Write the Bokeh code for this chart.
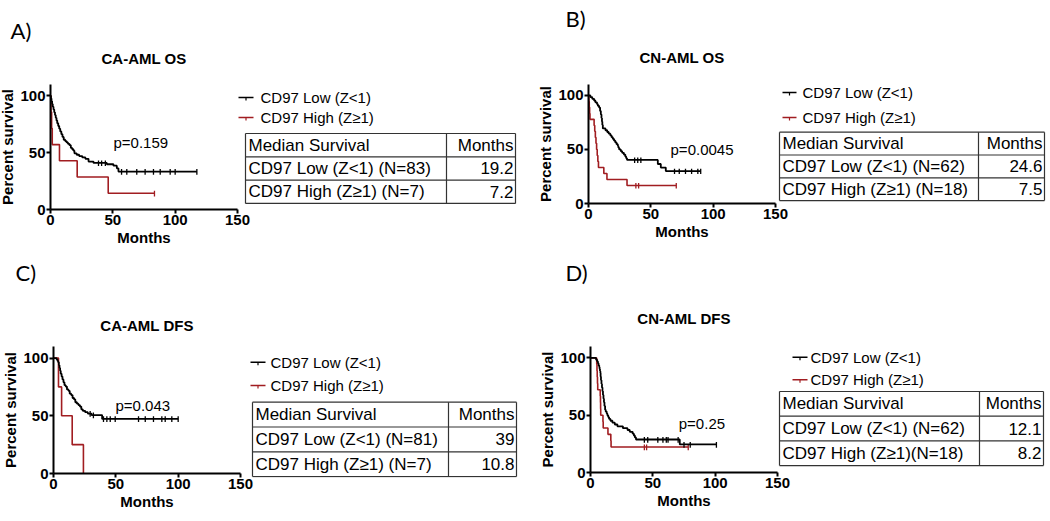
from bokeh.plotting import figure
from bokeh.models import Range1d, Label, FixedTicker, Title
from bokeh.layouts import row, column
from bokeh.embed import file_html
from bokeh.resources import INLINE
from bokeh.core.properties import value

FONT = "Liberation Sans"
LETTER_FONT = "Lato"
BLACK = "#000000"
RED = "#A11D21"

# ---------------- data ----------------
panel_letters = ["A)", "B)", "C)", "D)"]
panel_titles = ["CA-AML OS", "CN-AML OS", "CA-AML DFS", "CN-AML DFS"]
series_names = ["CD97 Low (Z<1)", "CD97 High (Z≥1)"]
table_header = ["Median Survival", "Months"]
p_texts = ["p=0.159", "p=0.0045", "p=0.043", "p=0.25"]
x_ticks = [0, 50, 100, 150]
y_ticks = [0, 50, 100]

# A) CA-AML OS
a_low_t = [0.3, 0.8, 1.3, 1.8, 2.4, 3.0, 3.6, 4.2, 4.8, 5.4, 6.2, 7.0, 7.8, 8.7, 9.6, 10.6, 11.8, 12.9,
           14.0, 15.2, 16.3, 17.4, 18.4, 19.2, 21.0, 23.0, 25.5, 28.0, 30.5, 34.5, 45.2, 50.5, 53.2, 54.5]
a_low_s = [97.6, 95.2, 92.8, 90.4, 88.0, 85.5, 83.1, 80.7, 78.3, 75.9, 73.5, 71.1, 68.7, 66.3, 63.9, 61.4, 60.2, 59.0,
           57.8, 56.6, 54.2, 53.0, 51.8, 49.4, 48.2, 47.0, 45.8, 44.6, 42.2, 41.0, 39.8, 38.6, 36.2, 33.4]
a_low_end = 117.4
a_low_cens = [38.5, 41.0, 44.0, 57.0, 61.2, 69.2, 75.9, 82.6, 88.0, 96.0, 100.0, 117.4]
a_high_t = [0.4, 0.9, 1.4, 7.2, 21.4, 46.3]
a_high_s = [85.7, 71.4, 57.1, 42.9, 28.6, 14.3]
a_high_end = 83.4
a_high_cens = [83.4]
a_rows = ["CD97 Low (Z<1) (N=83)", "CD97 High (Z≥1) (N=7)"]
a_medians = ["19.2", "7.2"]

# B) CN-AML OS
b_low_t = [1.5, 3.0, 4.5, 5.5, 6.8, 7.5, 8.5, 9.3, 9.9, 10.4, 10.8, 11.1, 11.5, 13.6, 15.0, 16.2, 17.5, 18.5,
           19.5, 20.5, 21.5, 22.5, 23.5, 24.0, 24.6, 25.9, 27.0, 28.4, 29.5, 30.2, 30.9, 55.6, 58.0, 62.0]
b_low_s = [98.4, 96.8, 95.2, 93.5, 91.9, 90.3, 88.7, 85.5, 82.3, 79.0, 75.8, 72.6, 69.4, 67.7, 66.1, 64.5, 62.9, 61.3,
           59.7, 58.1, 56.5, 54.8, 53.2, 51.6, 50.0, 48.4, 46.8, 45.2, 43.5, 41.9, 40.3, 36.5, 33.2, 30.0]
b_low_end = 90.0
b_low_cens = [37.0, 39.5, 42.0, 69.0, 72.8, 77.8, 82.7, 87.7, 90.0]
b_high_t = [0.3, 0.6, 0.9, 1.2, 4.5, 5.0, 5.5, 6.0, 6.5, 7.0, 7.5, 8.0, 12.3, 14.8, 30.9]
b_high_s = [94.4, 88.9, 83.3, 77.8, 72.2, 66.7, 61.1, 55.6, 50.0, 44.4, 38.9, 33.3, 27.8, 22.2, 16.7]
b_high_end = 70.4
b_high_cens = [38.0, 40.2, 70.4]
b_rows = ["CD97 Low (Z<1) (N=62)", "CD97 High (Z≥1) (N=18)"]
b_medians = ["24.6", "7.5"]

# C) CA-AML DFS
c_low_t = [2.5, 3.2, 3.8, 4.3, 4.8, 5.3, 5.8, 6.5, 7.2, 8.0, 8.8, 9.8, 10.8, 12.0, 13.0, 14.2, 15.3, 16.5,
           17.5, 18.8, 20.0, 21.2, 22.3, 23.5, 25.4, 27.5, 30.5, 39.0]
c_low_s = [98.8, 97.5, 96.3, 93.8, 91.4, 88.9, 86.4, 84.0, 81.5, 79.0, 76.5, 75.3, 72.8, 71.6, 69.1, 67.9, 65.4, 64.2,
           61.7, 60.5, 59.3, 58.0, 55.6, 54.3, 53.1, 51.9, 50.6, 47.3]
c_low_end = 100.0
c_low_cens = [29.4, 32.0, 40.1, 42.8, 45.5, 49.5, 68.2, 73.6, 80.2, 86.9, 89.6, 94.9, 100.0]
c_high_t = [4.0, 6.5, 15.0, 24.0]
c_high_s = [75.0, 50.0, 25.0, 0.0]
c_high_end = 24.0
c_high_cens = []
c_rows = ["CD97 Low (Z<1) (N=81)", "CD97 High (Z≥1) (N=7)"]
c_medians = ["39", "10.8"]

# D) CN-AML DFS
d_low_t = [4.5, 5.4, 6.0, 6.5, 7.0, 7.3, 7.6, 7.9, 8.1, 8.4, 8.8, 9.2, 9.6, 10.0, 10.4, 10.8, 11.2, 11.7,
           12.2, 13.0, 13.5, 14.2, 14.9, 16.0, 17.6, 19.5, 21.6, 26.0, 29.7, 31.5, 33.8, 34.8, 35.6, 36.5, 71.6]
d_low_s = [98.4, 96.8, 95.2, 93.5, 91.9, 90.3, 88.7, 87.1, 83.9, 80.6, 77.4, 74.2, 71.0, 67.7, 64.5, 61.3, 58.1, 54.8,
           53.2, 51.6, 50.0, 48.4, 46.8, 45.2, 43.5, 41.9, 40.3, 38.7, 37.1, 35.5, 33.9, 32.3, 30.6, 28.8, 24.5]
d_low_end = 101.0
d_low_cens = [43.2, 45.9, 54.0, 58.1, 60.8, 62.2, 70.3, 75.0, 80.0, 101.0]
d_high_t = [5.0, 5.2, 5.4, 5.6, 5.8, 7.8, 8.0, 8.1, 8.2, 10.0, 10.2, 14.0, 16.3, 16.5]
d_high_s = [94.4, 88.9, 83.3, 77.8, 72.2, 66.7, 61.1, 55.6, 50.0, 44.4, 38.9, 33.3, 27.8, 22.2]
d_high_end = 78.4
d_high_cens = [43.2, 45.0, 78.4]
d_rows = ["CD97 Low (Z<1) (N=62)", "CD97 High (Z≥1)(N=18)"]
d_medians = ["12.1", "8.2"]

panels = [
    dict(low=(a_low_t, a_low_s, a_low_end, a_low_cens), high=(a_high_t, a_high_s, a_high_end, a_high_cens),
         rows=a_rows, med=a_medians),
    dict(low=(b_low_t, b_low_s, b_low_end, b_low_cens), high=(b_high_t, b_high_s, b_high_end, b_high_cens),
         rows=b_rows, med=b_medians),
    dict(low=(c_low_t, c_low_s, c_low_end, c_low_cens), high=(c_high_t, c_high_s, c_high_end, c_high_cens),
         rows=c_rows, med=c_medians),
    dict(low=(d_low_t, d_low_s, d_low_end, d_low_cens), high=(d_high_t, d_high_s, d_high_end, d_high_cens),
         rows=d_rows, med=d_medians),
]

# ---------------- layout (pixels) ----------------
# KM figure: ml = css margin-left, bt/fh/bb = top border, frame height, bottom border,
# g1 = gap frame->title, g2 = gap title->panel letter, lo = letter offset from frame left
# side figure: pixel coordinates relative to its own top-left corner
layouts = [
    dict(ml=-4, bt=84, fh=125, bb=41, g1=18, g2=4, lo=-40, px=50.5, py=58.8,
         sml=-17, sw=299, sfh=125, leg_y=[97, 117], leg_x=(3, 18), leg_tx=25,
         tbl_x=(10, 211, 280), tbl_top=133, tbl_rh=23.3),
    dict(ml=0, bt=84, fh=119, bb=41, g1=19, g2=15, lo=-23, px=65.8, py=50.0,
         sml=-14, sw=270, sfh=125, leg_y=[92, 117], leg_x=(6, 20), leg_tx=26,
         tbl_x=(3, 202, 268), tbl_top=131.7, tbl_rh=22.8),
    dict(ml=-1, bt=96, fh=127, bb=41, g1=13, g2=29, lo=-38, px=49.7, py=58.7,
         sml=-9, sw=290, sfh=131, leg_y=[111.7, 135], leg_x=(4, 19), leg_tx=24,
         tbl_x=(6, 202, 270), tbl_top=151.7, tbl_rh=24.8),
    dict(ml=0, bt=96, fh=126, bb=41, g1=20, g2=22, lo=-25, px=70.8, py=43.2,
         sml=-16, sw=270, sfh=131, leg_y=[106.7, 129.3], leg_x=(16, 31), leg_tx=34,
         tbl_x=(3, 203, 267), tbl_top=141, tbl_rh=24.7),
]


def step_xy(t, s, end):
    xs = [0.0] + list(t) + [end]
    ys = [100.0] + list(s) + [s[-1]]
    return xs, ys


def surv_at(t, s, when):
    v = 100.0
    for ti, si in zip(t, s):
        if ti <= when:
            v = si
    return v


def spacer(h):
    # a blank title that only reserves about h pixels of vertical room above the frame
    return Title(text=" ", text_font=FONT, text_font_size="2px", standoff=max(h - 4, 0), align="center")


def style_axis(ax, ticks, label):
    ax.ticker = FixedTicker(ticks=ticks)
    ax.axis_label = label
    ax.axis_line_width = 2
    ax.axis_line_color = BLACK
    ax.major_tick_line_width = 2
    ax.major_tick_line_color = BLACK
    ax.major_tick_out = 4
    ax.major_tick_in = 0
    ax.minor_tick_out = 0
    ax.minor_tick_in = 0
    ax.major_label_text_font = FONT
    ax.major_label_text_font_style = "bold"
    ax.major_label_text_font_size = "15px"
    ax.major_label_text_color = BLACK
    ax.major_label_standoff = 1
    ax.axis_label_text_font = FONT
    ax.axis_label_text_font_style = "bold"
    ax.axis_label_text_font_size = "15px"
    ax.axis_label_text_color = BLACK
    ax.axis_label_standoff = 1


def km_figure(i):
    pan, lay = panels[i], layouts[i]
    p = figure(x_range=Range1d(0, 150), y_range=Range1d(0, 110),
               frame_width=187, frame_height=lay["fh"],
               min_border_left=54, min_border_right=15,
               min_border_top=lay["bt"], min_border_bottom=lay["bb"],
               toolbar_location=None, output_backend="svg", title=panel_letters[i])
    p.margin = (0, 0, 0, lay["ml"])
    style_axis(p.below[0], x_ticks, "Months")
    style_axis(p.left[0], y_ticks, "Percent survival")

    # outermost title: panel letter
    p.title.text_font = LETTER_FONT
    p.title.text_font_style = "normal"
    p.title.text_font_size = "22px"
    p.title.align = "left"
    p.title.offset = lay["lo"]
    p.title.standoff = 0
    p.title.text_color = BLACK
    # stack above the frame (frame outward): gap, chart title, gap
    p.add_layout(spacer(lay["g1"]), "above")
    p.add_layout(Title(text=panel_titles[i], align="center", standoff=0,
                       text_font=FONT, text_font_style="bold", text_font_size="15px",
                       text_color=BLACK), "above")
    p.add_layout(spacer(lay["g2"]), "above")

    p.outline_line_color = None
    p.grid.visible = False
    p.background_fill_color = None

    for key, color, lw in (("high", RED, 1.6), ("low", BLACK, 1.8)):
        t, s, end, cens = pan[key]
        xs, ys = step_xy(t, s, end)
        p.step(xs, ys, mode="after", line_color=color, line_width=lw)
        if cens:
            cy = [surv_at(t, s, c) for c in cens]
            p.segment(x0=cens, y0=[y + 2.2 for y in cy], x1=cens, y1=[y - 2.8 for y in cy],
                      line_color=color, line_width=1.3)

    p.add_layout(Label(x=lay["px"], y=lay["py"], text=p_texts[i], text_font=FONT,
                       text_font_size="15px", text_baseline="middle", text_align="left",
                       text_color=BLACK))
    return p


def side_figure(i):
    pan, lay = panels[i], layouts[i]
    W = lay["sw"]
    bt, sfh = lay["bt"], lay["sfh"]
    s = figure(frame_width=W, frame_height=sfh, x_range=Range1d(0, W), y_range=Range1d(bt + sfh, bt),
               x_axis_type=None, y_axis_type=None,
               min_border_left=0, min_border_right=0, min_border_top=bt, min_border_bottom=lay["bb"],
               toolbar_location=None, output_backend="svg")
    s.margin = (0, 0, 0, lay["sml"])
    s.outline_line_color = None
    s.background_fill_color = None
    s.border_fill_color = None
    s.grid.visible = False

    ly = lay["leg_y"]
    x0, x1 = lay["leg_x"]
    xm = (x0 + x1) / 2
    s.segment(x0=[x0, x0], y0=ly, x1=[x1, x1], y1=ly, line_color=[BLACK, RED], line_width=1.6)
    s.segment(x0=[xm, xm], y0=ly, x1=[xm, xm], y1=[y + 3 for y in ly], line_color=[BLACK, RED], line_width=1.2)
    s.text(x=[lay["leg_tx"]] * 2, y=ly, text=series_names, text_font=value(FONT), text_font_size="15px",
           text_baseline="middle", text_align="left", text_color=BLACK)

    L, D, R = lay["tbl_x"]
    top, rh = lay["tbl_top"], lay["tbl_rh"]
    hy = [top + k * rh for k in range(4)]
    s.segment(x0=[L] * 4, y0=hy, x1=[R] * 4, y1=hy, line_color="#333333", line_width=1.2)
    s.segment(x0=[L, D, R], y0=[top] * 3, x1=[L, D, R], y1=[hy[-1]] * 3, line_color="#333333", line_width=1.2)
    cy = [top + (k + 0.5) * rh for k in range(3)]
    s.text(x=[L + 3] * 3, y=cy, text=[table_header[0]] + pan["rows"], text_font=value(FONT),
           text_font_size="17px", text_baseline="middle", text_align="left", text_color=BLACK)
    s.text(x=[R - 2] * 3, y=cy, text=[table_header[1]] + pan["med"], text_font=value(FONT),
           text_font_size="17px", text_baseline="middle", text_align="right", text_color=BLACK)
    return s


figs = [(km_figure(i), side_figure(i)) for i in range(4)]
top = row(figs[0][0], figs[0][1], figs[1][0], figs[1][1])
bottom = row(figs[2][0], figs[2][1], figs[3][0], figs[3][1])
page = column(top, bottom)

open("out.html", "w").write(file_html(page, INLINE, title="CD97 survival"))
